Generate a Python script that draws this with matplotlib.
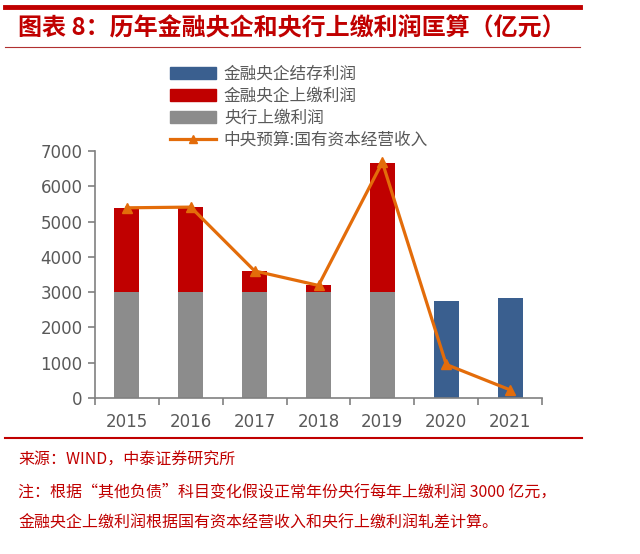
import numpy as np
import matplotlib
matplotlib.use('Agg')
import matplotlib.pyplot as plt
from matplotlib.patches import Patch
from matplotlib.lines import Line2D

plt.rcParams['font.family'] = ['Noto Sans CJK SC', 'DejaVu Sans']

# data (亿元)
years = ['2015', '2016', '2017', '2018', '2019', '2020', '2021']
cb_paid = [3000, 3000, 3000, 3000, 3000, 0, 0]          # 央行上缴利润
soe_paid = [2390, 2410, 600, 200, 3650, 0, 0]           # 金融央企上缴利润
soe_kept = [0, 0, 0, 0, 0, 2740, 2820]                  # 金融央企结存利润
budget = [5390, 5410, 3600, 3190, 6680, 950, 230]       # 中央预算:国有资本经营收入

blue = '#3A5F8F'
red = '#C00000'
gray = '#8C8C8C'
orange = '#E36C0A'
txt = '#595959'

fig = plt.figure(figsize=(6.4, 5.54), dpi=100)
ax = fig.add_axes([95/640, 1-398/554, (542-95)/640, (398-151)/554])

x = np.arange(len(years))
w = 0.39
ax.bar(x, cb_paid, w, color=gray)
ax.bar(x, soe_paid, w, bottom=cb_paid, color=red)
ax.bar(x, soe_kept, w, color=blue)
ax.plot(x, budget, color=orange, lw=2.3, marker='^', ms=7)

ax.set_xlim(-0.5, 6.5)
ax.set_ylim(0, 7000)
ax.set_yticks(range(0, 7001, 1000))
ax.set_xticks(x)
ax.set_xticklabels(years)
ax.set_xticks(np.arange(-0.5, 7, 1), minor=True)
for lab in ax.get_xticklabels() + ax.get_yticklabels():
    lab.set_family('DejaVu Sans')
ax.tick_params(axis='x', which='major', length=0, pad=11, labelsize=12, labelcolor=txt)
ax.tick_params(axis='x', which='minor', length=5, color='#808080', width=1.2)
ax.tick_params(axis='y', length=5, color='#808080', width=1.2, labelsize=12, labelcolor=txt, pad=4)
for s in ['top', 'right']:
    ax.spines[s].set_visible(False)
for s in ['left', 'bottom']:
    ax.spines[s].set_color('#808080')
    ax.spines[s].set_linewidth(1.2)

handles = [Patch(color=blue), Patch(color=red), Patch(color=gray),
           Line2D([], [], color=orange, lw=2.3, marker='^', ms=6)]
labels = ['金融央企结存利润', '金融央企上缴利润', '央行上缴利润', '中央预算:国有资本经营收入']
fig.legend(handles, labels, loc='upper left', bbox_to_anchor=(163/640, 1-59/554),
           frameon=False, fontsize=12, handlelength=2.8, labelspacing=0.3,
           handletextpad=0.45, labelcolor=txt, borderaxespad=0)

# header and footer decorations
fig.add_artist(Line2D([5/640, 580/640], [1-7/554, 1-7/554], color=red, lw=3.5))
fig.add_artist(Line2D([5/640, 580/640], [1-47/554, 1-47/554], color='#B03030', lw=0.8))
fig.text(18/640, 1-28/554, '图表 8：历年金融央企和央行上缴利润匡算（亿元）', color=red,
         fontsize=17.3, fontweight='bold', style='italic', va='center')
fig.add_artist(Line2D([5/640, 582/640], [1-438/554, 1-438/554], color=red, lw=1.5))
fig.text(18/640, 1-460/554, '来源：WIND，中泰证券研究所', color=red, fontsize=11.5, va='center')
fig.text(18/640, 1-492/554, '注：根据“其他负债”科目变化假设正常年份央行每年上缴利润 3000 亿元，',
         color=red, fontsize=11.5, va='center')
fig.text(18/640, 1-523/554, '金融央企上缴利润根据国有资本经营收入和央行上缴利润轧差计算。',
         color=red, fontsize=11.5, va='center')

fig.savefig('out.png', dpi=100)
